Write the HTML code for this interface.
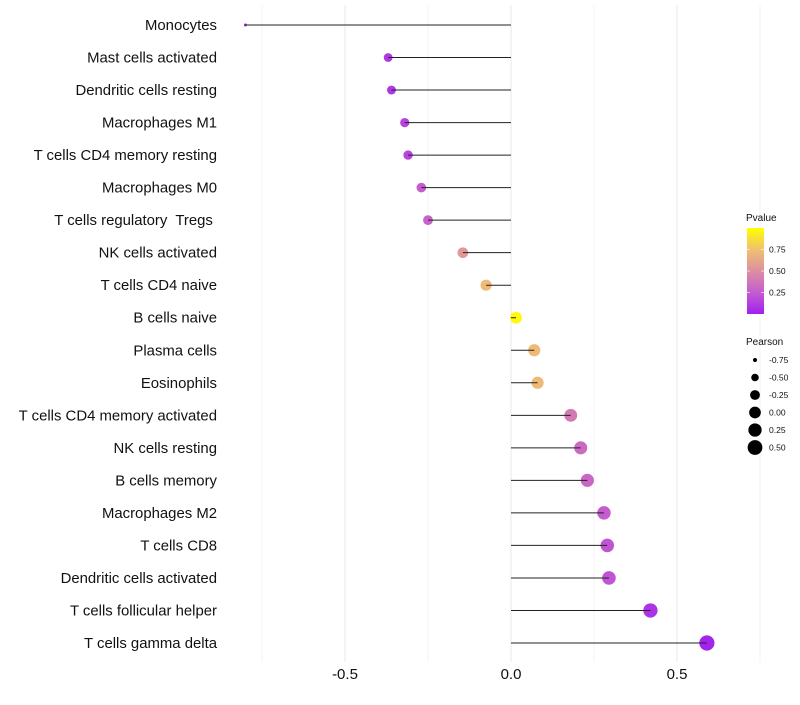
<!DOCTYPE html>
<html><head><meta charset="utf-8"><style>
body{margin:0;background:#fff;font-family:"Liberation Sans",sans-serif;}
text{white-space:pre;}
</style></head><body>
<svg id="chart" width="800" height="700" xmlns="http://www.w3.org/2000/svg" font-family="Liberation Sans, sans-serif"></svg>
<script>
const categories=["Monocytes","Mast cells activated","Dendritic cells resting","Macrophages M1","T cells CD4 memory resting","Macrophages M0","T cells regulatory  Tregs ","NK cells activated","T cells CD4 naive","B cells naive","Plasma cells","Eosinophils","T cells CD4 memory activated","NK cells resting","B cells memory","Macrophages M2","T cells CD8","Dendritic cells activated","T cells follicular helper","T cells gamma delta"];
const pearson=[-0.80,-0.37,-0.36,-0.32,-0.31,-0.27,-0.25,-0.145,-0.075,0.015,0.07,0.08,0.18,0.21,0.23,0.28,0.29,0.295,0.42,0.59];
const pvalue=[0.0,0.1,0.1,0.15,0.15,0.25,0.28,0.55,0.72,0.98,0.72,0.72,0.4,0.32,0.3,0.25,0.22,0.22,0.08,0.02];
const xTicks=[-0.5,0,0.5];
const xTickLabels=["-0.5","0.0","0.5"];
const xMinor=[-0.75,-0.25,0.25,0.75];
const legendP=[0.25,0.5,0.75];
const legendPLabels=["0.25","0.50","0.75"];
const legendS=[-0.75,-0.5,-0.25,0,0.25,0.5];
const legendSLabels=["-0.75","-0.50","-0.25","0.00","0.25","0.50"];

const svg=document.getElementById('chart');
const NS='http://www.w3.org/2000/svg';
function mk(t,a,p){const e=document.createElementNS(NS,t);for(const k in a)e.setAttribute(k,a[k]);(p||svg).appendChild(e);return e;}
const x=v=>511+v*332;
const y=i=>25+i*(618/(categories.length-1));
const r=v=>Math.sqrt(2.25+40*Math.max(0,v+0.8));
const stops=[[0,[160,32,240]],[0.25,[196,92,208]],[0.5,[220,143,160]],[0.75,[240,192,112]],[1,[255,255,0]]];
function col(p){p=Math.max(0,Math.min(1,p));for(let i=0;i<stops.length-1;i++){const[a,ca]=stops[i],[b,cb]=stops[i+1];if(p<=b){const t=(p-a)/(b-a);return 'rgb('+ca.map((c,j)=>Math.round(c+(cb[j]-c)*t)).join(',')+')';}}}

xMinor.concat(xTicks).forEach(v=>{const g=mk('line',{x1:x(v),x2:x(v),y1:5,y2:662,stroke:'#ebebeb','stroke-width':xTicks.includes(v)?1.1:0.6});

});
xTicks.forEach((v,i)=>{const t=mk('text',{x:x(v),y:679,'text-anchor':'middle','font-size':15,fill:'#111'});t.textContent=xTickLabels[i];

});
categories.forEach((c,i)=>{
 const t=mk('text',{x:217,y:y(i)+5,'text-anchor':'end','font-size':14.9,fill:'#111'});t.textContent=c;
 
 
 const d=mk('circle',{cx:x(pearson[i]),cy:y(i),r:r(pearson[i]),fill:col(pvalue[i])});
 
 
 const l=mk('line',{x1:x(0),x2:x(pearson[i]),y1:y(i),y2:y(i),stroke:'#222','stroke-width':1});
 
 
});
const lt=mk('text',{x:746,y:221,'font-size':10,fill:'#111'});lt.textContent='Pvalue';


const defs=mk('defs',{});const lg=mk('linearGradient',{id:'pg',x1:0,y1:1,x2:0,y2:0},defs);
stops.forEach(s=>mk('stop',{offset:s[0],'stop-color':col(s[0])},lg));
const bar=mk('rect',{x:747,y:228,width:17,height:86,fill:'url(#pg)'});


const py=p=>314-p*86;
legendP.forEach((p,i)=>{mk('line',{x1:747,x2:750,y1:py(p),y2:py(p),stroke:'#fff','stroke-opacity':0.6});mk('line',{x1:761,x2:764,y1:py(p),y2:py(p),stroke:'#fff','stroke-opacity':0.6});
 const t=mk('text',{x:769,y:py(p)+3,'font-size':8.5,fill:'#111'});t.textContent=legendPLabels[i];
 
 });
const st=mk('text',{x:746,y:345,'font-size':10,fill:'#111'});st.textContent='Pearson';


legendS.forEach((v,i)=>{const yy=360+i*17.5;
 const c=mk('circle',{cx:755,cy:yy,r:r(v),fill:'#000'});
 
 
 const t=mk('text',{x:769,y:yy+3,'font-size':8.5,fill:'#111'});t.textContent=legendSLabels[i];
 
 });
</script>
</body></html>
